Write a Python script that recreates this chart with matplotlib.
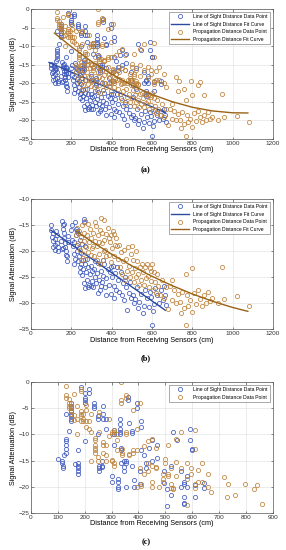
import numpy as np
import matplotlib
matplotlib.use('Agg')
import matplotlib.pyplot as plt

plt.rcParams['font.family'] = ['Liberation Sans', 'DejaVu Sans']

# (b) line of sight points
los_b_x = [98, 100, 105, 110, 112, 118, 120, 122, 128, 130, 132, 108, 125, 135,
           155, 158, 160, 162, 165, 168, 170, 172, 175, 178, 160, 182, 185, 150, 152, 180, 165,
           200, 205, 210, 212, 215, 218, 220, 222, 225, 228, 230, 232, 235, 238, 240, 242, 245, 248,
           250, 252, 255, 258, 260, 262, 265, 268, 205, 215, 228, 245,
           270, 275, 280, 285, 290, 295, 300, 305, 310, 315, 320, 325, 330, 335, 340, 345, 350, 355,
           360, 365, 370, 375, 380, 385, 390, 395, 400, 405, 410, 415, 420, 285, 305, 335, 360, 395,
           412, 300, 320, 350, 375, 280, 262, 270,
           425, 430, 438, 445, 450, 455, 460, 465, 470, 478, 485, 490, 495,
           505, 510, 518, 525, 530, 538, 545, 555, 560, 565, 575, 585, 590, 598, 600, 605, 610, 615,
           625, 635, 645, 655, 665, 670, 660]
los_b_y = [-15.0, -16.0, -17.3, -18.0, -19.2, -17.6, -18.8, -19.8, -17.0, -18.5, -20.0, -16.6, -16.2, -19.3,
           -14.2, -15.0, -15.8, -16.6, -17.5, -18.4, -19.2, -20.0, -20.7, -22.0, -19.5, -18.3, -17.2, -18.0, -19.7, -21.0, -14.8,
           -16.0, -17.8, -19.0, -20.5, -18.3, -21.5, -14.5, -15.8, -17.0, -18.8, -20.0, -22.0, -16.5, -19.5, -21.0, -23.0, -17.8, -20.3,
           -22.5, -24.6, -18.6, -21.8, -23.5, -13.8, -14.5, -19.0, -15.0, -22.5, -16.2, -24.0,
           -22.5, -24.0, -25.5, -23.0, -26.5, -24.5, -22.8, -25.8, -27.0, -23.5, -25.0, -26.2, -24.2, -22.3, -25.5, -27.5, -23.8, -26.0,
           -24.8, -22.5, -27.0, -25.2, -23.5, -26.5, -24.0, -28.2, -25.0, -22.8, -26.8, -24.3, -27.5, -27.0, -23.8, -28.0, -21.8, -23.0,
           -29.0, -26.8, -22.0, -26.8, -28.5, -21.5, -26.2, -27.2,
           -23.0, -25.5, -27.8, -24.0, -28.5, -26.2, -29.5, -25.0, -27.0, -31.3, -28.0, -26.0, -29.0,
           -28.5, -30.0, -29.3, -27.0, -31.0, -29.8, -28.2, -32.0, -30.5, -27.5, -29.0, -30.8, -27.8, -28.8, -34.2, -31.5, -30.2, -27.2,
           -28.5, -30.0, -27.5, -29.5, -28.5, -30.3, -26.8]

# (b) propagation points
prop_b_x = [225, 230, 235, 240, 245, 250, 255, 258, 262, 265, 270, 272, 278, 282, 285, 290, 248, 268,
            295, 300, 305, 310, 315, 320, 325, 330, 335, 340, 345, 350, 352, 358, 362, 365, 370, 375, 380,
            385, 390, 395, 400, 405, 410, 415, 420, 310, 330, 355, 372, 398, 318, 340, 385, 300, 412, 345, 365,
            425, 430, 435, 440, 445, 450, 455, 460, 465, 470, 475, 480, 485, 490, 495, 500, 505, 510, 515,
            520, 525, 530, 535, 540, 545, 550, 555, 560, 500, 520,
            565, 570, 575, 580, 585, 590, 595, 600, 605, 610, 615, 620, 625, 630, 640, 650, 595,
            660, 670, 680, 690, 700, 710, 720, 730, 740, 750, 760, 770, 775, 780, 790, 800, 800, 810, 820,
            830, 840, 850, 860, 870, 880, 890, 900, 770, 700, 745,
            950, 960, 1020, 1080, 930]
prop_b_y = [-17.0, -15.5, -18.5, -16.2, -19.8, -17.4, -15.0, -20.5, -18.0, -16.5, -21.5, -19.2, -17.0, -14.8, -20.2, -18.2, -21.8, -14.2,
            -15.8, -17.5, -19.5, -16.5, -21.0, -18.0, -15.2, -19.0, -17.0, -20.5, -16.0, -13.6, -18.5, -21.8, -14.0, -17.8, -19.8, -16.8, -15.5,
            -20.8, -18.2, -17.0, -19.5, -16.2, -21.0, -18.8, -17.5, -19.0, -21.8, -16.5, -21.0, -22.2, -14.5, -18.2, -17.5, -20.8, -16.8, -22.5, -20.0,
            -19.0, -21.5, -18.8, -23.0, -20.2, -24.5, -22.0, -19.8, -25.5, -21.5, -23.8, -19.2, -22.8, -25.0, -20.5, -24.0, -21.8, -26.0, -23.2,
            -25.0, -22.0, -24.5, -26.5, -23.0, -25.5, -22.5, -24.0, -26.5, -19.0, -20.0,
            -23.0, -25.2, -22.5, -24.8, -27.0, -23.2, -25.8, -22.5, -27.5, -24.0, -26.0, -28.0, -24.5, -26.8, -28.5, -25.5, -23.8,
            -29.0, -27.0, -31.2, -26.8, -29.5, -27.5, -30.0, -28.2, -29.8, -27.8, -31.0, -34.2, -28.5, -30.5, -29.5, -23.2, -31.8, -28.0, -30.2,
            -27.5, -29.2, -30.5, -28.5, -30.0, -27.8, -29.6, -29.0, -24.5, -25.5, -32.0,
            -23.0, -29.2, -28.7, -30.5, -30.0]

# (c) line of sight points
los_c_x = [150, 150, 150, 150, 150, 150, 150, 150, 100, 115, 115, 120, 120, 125, 130, 130, 130, 130, 130, 130, 140,
           175, 175, 175, 175, 175, 175, 165, 185, 200, 200, 200, 200, 200, 215, 215, 235, 235, 235, 250, 250, 250,
           255, 255, 255, 265, 265, 265, 270, 270, 270, 280, 280, 300, 300, 310, 310, 310, 325, 325, 325, 325,
           330, 330, 330, 330, 330, 335, 335, 335, 345, 345, 345, 355, 355, 355, 360, 360, 365, 375, 375, 375,
           385, 385, 395, 395, 405, 405, 410, 410, 410, 420, 430, 430, 440, 450, 450, 470, 470, 495, 495, 505,
           505, 520, 520, 530, 545, 560, 560, 570, 570, 570, 570, 570, 580, 580, 590, 590, 600, 600, 610, 610,
           645, 645]
los_c_y = [-4.0, -4.5, -5.0, -5.5, -6.0, -6.5, -7.0, -7.5, -14.7, -15.0, -15.5, -16.0, -16.5, -14.0, -10.8, -11.3, -12.0, -12.7, -13.5, -6.0, -9.3,
           -13.0, -15.5, -16.0, -16.5, -17.0, -17.5, -15.6, -1.0, -2.0, -3.0, -3.5, -4.0, -11.2, -1.3, -2.0, -4.0, -4.5, -5.0, -6.5, -7.0, -10.0,
           -16.0, -16.5, -17.0, -15.0, -16.0, -16.3, -4.5, -6.0, -7.0, -7.0, -9.0, -18.0, -19.0, -9.2, -10.0, -12.0, -18.5, -19.0, -20.0, -20.5,
           -7.0, -8.0, -9.0, -9.5, -10.0, -12.5, -13.0, -15.5, -16.3, -17.0, -15.0, -15.0, -15.5, -20.0, -2.8, -3.5, -7.8, -9.3, -9.7, -16.0,
           -18.7, -20.0, -4.0, -5.0, -17.0, -19.5, -7.5, -8.5, -13.0, -14.0, -15.5, -16.5, -12.5, -11.0, -15.0, -14.5, -12.0, -19.2, -17.0, -20.5,
           -23.7, -16.0, -21.5, -9.5, -11.0, -20.0, -17.0, -19.0, -19.5, -22.0, -23.0, -23.3, -18.0, -20.0, -9.0, -11.0, -13.0, -12.8, -22.0, -19.7,
           -20.3, -19.3]

# (c) propagation points
prop_c_x = [130, 130, 130, 140, 140, 140, 140, 150, 150, 150, 150, 150, 160, 160, 160, 170, 170, 170,
            185, 185, 185, 185, 185, 185, 195, 195, 195, 205, 205, 205, 205, 215, 215, 225, 225, 225,
            240, 240, 240, 240, 240, 240, 250, 250, 255, 255, 255, 270, 270, 270, 280, 280, 280, 290, 290,
            300, 300, 300, 300, 310, 310, 310, 310, 320, 320, 320, 335, 335, 335, 340, 340, 340, 355, 355, 355, 355,
            365, 365, 380, 380, 380, 395, 395, 395, 405, 405, 410, 410, 420, 420, 435, 435, 435, 450, 450, 450, 450,
            465, 465, 465, 475, 490, 490, 490, 500, 500, 510, 510, 510, 520, 520, 520, 530, 530, 540, 540, 540,
            560, 560, 580, 580, 580, 595, 595, 610, 610, 610, 610, 620, 620, 635, 635, 660, 660, 670,
            720, 730, 735, 760, 795, 830, 840, 858]
prop_c_y = [-0.8, -2.5, -3.0, -3.3, -4.0, -4.5, -5.0, -4.0, -4.5, -5.0, -5.5, -6.0, -2.2, -6.3, -7.2, -4.5, -7.0, -10.0,
            -1.3, -1.7, -5.5, -6.0, -6.5, -7.5, -7.5, -7.0, -6.0, -4.3, -5.3, -7.5, -8.5, -7.5, -9.0, -6.0, -9.5, -15.0,
            -10.6, -11.0, -12.0, -12.5, -13.0, -13.5, -14.3, -15.0, -5.8, -6.3, -9.5, -11.5, -12.0, -13.5, -12.0, -14.0, -15.0, -7.0, -10.3,
            -9.5, -10.0, -14.8, -15.0, -9.2, -9.5, -15.5, -16.0, -13.0, -11.0, -10.0, 0.0, -3.5, -4.0, -12.7, -13.5, -14.0, -9.5, -10.0, -2.5, -3.0,
            -13.8, -14.0, -13.0, -13.5, -5.3, -13.0, -9.0, -20.0, -4.0, -16.5, -19.5, -19.8, -12.3, -17.5, -11.2, -15.5, -17.0, -10.8, -16.0, -19.0, -20.0,
            -16.3, -16.5, -12.5, -20.0, -17.5, -18.5, -19.0, -14.7, -15.5, -12.0, -17.5, -18.0, -16.5, -19.5, -20.3, -20.5, -20.2, -10.8, -15.2, -18.0,
            -9.5, -16.5, -15.5, -18.5, -23.5, -16.5, -17.5, -9.2, -12.8, -19.5, -20.3, -16.8, -19.0, -15.5, -19.0, -17.5, -20.0, -21.0,
            -18.2, -22.0, -19.4, -21.5, -19.5, -20.5, -19.7, -23.2]

# fit curves
los_fit_a_x = [90, 667]
los_fit_a_y = [-14.4, -27.9]
prop_fit_a_x = [117, 200, 300, 400, 500, 600, 700, 800, 900, 1000, 1076]
prop_fit_a_y = [-6.5, -10.15, -14.1, -17.55, -20.55, -23.0, -24.95, -26.45, -27.45, -27.95, -28.0]
los_fit_b_x = [99, 667]
los_fit_b_y = [-16.0, -31.4]
prop_fit_b_x = [225, 300, 400, 500, 600, 700, 800, 900, 1000, 1076]
prop_fit_b_y = [-16.2, -18.15, -20.6, -22.85, -24.85, -26.65, -28.25, -29.65, -30.85, -31.6]

# (a) is all points together
los_a_x = los_b_x + los_c_x
los_a_y = los_b_y + los_c_y
prop_a_x = prop_b_x + prop_c_x
prop_a_y = prop_b_y + prop_c_y

c_los = '#3d58bd'
c_los_fit = '#2c49a0'
c_prop = '#bd823a'
c_prop_fit = '#996215'

fig = plt.figure(figsize=(2.86, 5.5), dpi=100)


def style(ax, xlim, ylim, xt, yt):
    ax.set_xlim(xlim)
    ax.set_ylim(ylim)
    ax.set_xticks(xt)
    ax.set_yticks(yt)
    ax.tick_params(direction='in', length=1.8, width=0.4, labelsize=4.6, pad=1.2,
                   top=True, right=True, colors='#333333')
    ax.grid(True, color='#dddddd', linewidth=0.4)
    ax.set_axisbelow(True)
    for s in ax.spines.values():
        s.set_linewidth(0.5)
        s.set_color('#555555')
    ax.set_xlabel('Distance from Receiving Sensors (cm)', fontsize=5.2, labelpad=0.6)
    ax.set_ylabel('Signal Attenuation (dB)', fontsize=5.2, labelpad=1.2)


def draw(ax, lx, ly, px, py, fits):
    ax.plot(lx, ly, 'o', mfc='none', mec=c_los, ms=3, mew=0.55,
            label='Line of Sight Distance Data Point')
    if fits:
        ax.plot(fits[0], fits[1], color=c_los_fit, lw=1.0, label='Line of Sight Distance Fit Curve')
    ax.plot(px, py, 'o', mfc='none', mec=c_prop, ms=3, mew=0.55,
            label='Propagation Distance Data Point')
    if fits:
        ax.plot(fits[2], fits[3], color=c_prop_fit, lw=1.0, label='Propagation Distance Fit Curve')
    ax.legend(loc='upper right', fontsize=3.6, frameon=True, fancybox=False, edgecolor='#444444',
              handlelength=3.6, borderpad=0.4, labelspacing=0.55, handletextpad=0.8,
              borderaxespad=0.6).get_frame().set_linewidth(0.4)


ax1 = fig.add_axes([0.108, 0.7473, 0.846, 0.2364])
draw(ax1, los_a_x, los_a_y, prop_a_x, prop_a_y,
     (los_fit_a_x, los_fit_a_y, prop_fit_a_x, prop_fit_a_y))
style(ax1, (0, 1200), (-35, 0), np.arange(0, 1201, 200), np.arange(-35, 1, 5))

ax2 = fig.add_axes([0.108, 0.4018, 0.846, 0.2364])
draw(ax2, los_b_x, los_b_y, prop_b_x, prop_b_y,
     (los_fit_b_x, los_fit_b_y, prop_fit_b_x, prop_fit_b_y))
style(ax2, (0, 1200), (-35, -10), np.arange(0, 1201, 200), np.arange(-35, -9, 5))

ax3 = fig.add_axes([0.108, 0.0673, 0.846, 0.238])
draw(ax3, los_c_x, los_c_y, prop_c_x, prop_c_y, None)
style(ax3, (0, 900), (-25, 0), np.arange(0, 901, 100), np.arange(-25, 1, 5))

for lab, y in [('(a)', 170), ('(b)', 358), ('(c)', 542)]:
    fig.text(0.51, 1 - y / 550, lab, ha='center', va='center', fontsize=6,
             fontweight='bold', family='Liberation Serif')

fig.savefig('out.png', dpi=100)
